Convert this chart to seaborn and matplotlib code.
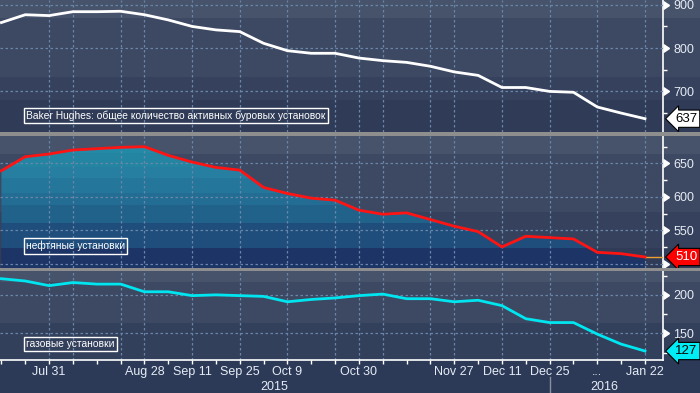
import matplotlib
matplotlib.use('Agg')
import matplotlib.pyplot as plt
import matplotlib.transforms as mtransforms
from matplotlib.patches import Rectangle
import numpy as np
import pandas as pd
import seaborn as sns

# weekly Baker Hughes rig counts, Jul 17 2015 .. Jan 22 2016
dates = pd.date_range('2015-07-17', '2016-01-22', freq='7D')
total_rigs = [859, 877, 875, 884, 884, 885, 877, 865, 850, 842, 838, 811, 794, 788,
              788, 777, 771, 767, 758, 745, 737, 709, 709, 700, 698, 664, 650, 637]
oil_rigs = [639, 660, 664, 670, 672, 674, 675, 662, 652, 644, 640, 614, 605, 598,
            595, 580, 574, 576, 566, 556, 548, 525, 541, 539, 537, 517, 515, 510]
gas_rigs = [221, 218, 212, 216, 214, 214, 204, 204, 199, 200, 199, 198, 191, 194,
            196, 199, 201, 195, 195, 191, 193, 186, 169, 164, 164, 149, 136, 127]

tick_dates = pd.to_datetime(['2015-07-31', '2015-08-28', '2015-09-11', '2015-09-25',
                             '2015-10-09', '2015-10-30', '2015-11-27', '2015-12-11',
                             '2015-12-25', '2016-01-08', '2016-01-22'])
tick_labels = ['Jul 31', 'Aug 28', 'Sep 11', 'Sep 25', 'Oct 9', 'Oct 30',
               'Nov 27', 'Dec 11', 'Dec 25', '...', 'Jan 22']
grid_dates = pd.to_datetime(['2015-07-31', '2015-08-07', '2015-08-21', '2015-08-28',
                             '2015-09-11', '2015-09-25', '2015-10-09', '2015-10-23',
                             '2015-10-30', '2015-11-06', '2015-11-20', '2015-11-27',
                             '2015-12-11', '2015-12-25', '2016-01-08', '2016-01-22'])

W, H = 700, 393
AX_W = 663
xlim = (pd.Timestamp('2015-07-16 14:00'), pd.Timestamp('2016-01-27 07:00'))

TXT = '#e6ecf5'
GRID = '#6985a8'

plt.rcParams['font.family'] = ['Liberation Sans', 'DejaVu Sans']

fig = plt.figure(figsize=(W / 100, H / 100), dpi=100, facecolor='#2c3a58')


def band(top, bottom, color, z=-2):
    fig.add_artist(Rectangle((0, 1 - bottom / H), 1, (bottom - top) / H,
                             transform=fig.transFigure, color=color, zorder=z, lw=0))


# panel backgrounds (stepped shading, full width)
for t, b, c in [(0, 17.7, '#46536b'), (17.7, 76.7, '#3d4963'), (76.7, 100, '#36425d'), (100, 132, '#2f3b57'),
                (136, 154, '#46536b'), (154, 211.7, '#3d4963'), (211.7, 248, '#36425d'), (248, 268, '#2f3b57'),
                (271, 282, '#46536b'), (282, 322.5, '#3d4963'), (322.5, 359.5, '#33405b')]:
    band(t, b, c)
# grey separators
band(132, 136, '#8e8e8e', z=5)
band(267.7, 271, '#8e8e8e', z=5)


def make_ax(top, bottom):
    ax = fig.add_axes([0, 1 - bottom / H, AX_W / W, (bottom - top) / H])
    ax.patch.set_visible(False)
    for s in ['top', 'left', 'bottom']:
        ax.spines[s].set_visible(False)
    ax.spines['right'].set_color('white')
    ax.spines['right'].set_linewidth(1.2)
    ax.yaxis.tick_right()
    return ax


ax1 = make_ax(0, 131.7)
ax2 = make_ax(136, 267.7)
ax3 = make_ax(271, 359.5)

# gradient fill under oil line
fill_bands = [(136, 153, '#228aa7'), (153, 166.7, '#2485a3'), (166.7, 178.3, '#267ea0'),
              (178.3, 193.3, '#24779b'), (193.3, 205, '#236d94'), (205, 222.7, '#21628b'),
              (222.7, 248.3, '#1f4e7d'), (248.3, 268, '#1d3466')]
rows = []
for i in range(132):
    py = 136 + i + 0.5
    for t, b, c in fill_bands:
        if t <= py < b:
            rows.append(matplotlib.colors.to_rgb(c))
            break
    else:
        rows.append(matplotlib.colors.to_rgb(fill_bands[-1][2]))
img = np.array(rows).reshape(-1, 1, 3)
poly = ax2.fill_between(dates, oil_rigs, 300, color='none', lw=0)
im = ax2.imshow(img, extent=(0, 1, 0, 1), transform=ax2.transAxes, aspect='auto',
                interpolation='nearest', zorder=1)
im.set_clip_path(poly.get_paths()[0], ax2.transData)

sns.lineplot(x=dates, y=total_rigs, ax=ax1, color='white', lw=2, zorder=4)
sns.lineplot(x=dates, y=oil_rigs, ax=ax2, color='#ff1414', lw=2, zorder=4)
sns.lineplot(x=dates, y=gas_rigs, ax=ax3, color='#00e6f0', lw=2, zorder=4)
ax2.hlines(oil_rigs[-1], dates[-1], xlim[1], color='#f0a030', lw=1, zorder=3)

panels = [
    (ax1, (607, 911), [700, 800, 900], ['700', '800', '900'], [650, 750, 850],
     total_rigs[-1], 'white', 'black', 'Baker Hughes: общее количество активных буровых установок',
     (131.7 - 115.3) / 131.7),
    (ax2, (494, 691), [500, 550, 600, 650], ['', '550', '600', '650'], [525, 575, 625, 675],
     oil_rigs[-1], '#ff0000', 'white', 'нефтяные установки', (267.7 - 246) / 131.7),
    (ax3, (116, 231), [150, 200], ['150', '200'], [125, 175, 225],
     gas_rigs[-1], '#00ecf5', 'black', 'газовые установки', (359.5 - 343.9) / 88.5),
]

for ax, ylim, major, labels, minor, last, tag_fc, tag_tc, title, ty in panels:
    ax.set_xlim(xlim)
    ax.set_ylim(ylim)
    ax.set_xlabel('')
    ax.set_ylabel('')
    ax.set_yticks(major, labels)
    ax.set_yticks(minor, minor=True)
    ax.tick_params(axis='y', which='major', length=0, pad=7.5, labelsize=9, labelcolor=TXT)
    ax.tick_params(axis='y', which='minor', length=3, width=1, color='white', direction='out')
    ax.set_axisbelow(False)
    ax.grid(axis='y', which='major', color=GRID, ls=(0, (2, 2)), lw=0.9, zorder=2)
    for d in grid_dates:
        ax.axvline(d, color=GRID, ls=(0, (2, 2)), lw=0.9, zorder=2)
    blend = mtransforms.blended_transform_factory(ax.transAxes, ax.transData)
    ax.plot([1.0] * len(major), major, transform=blend, marker=9, ms=6, color='white',
            ls='none', clip_on=False, zorder=6)
    ax.text(675 / AX_W, last, str(last), transform=blend, va='center', ha='left',
            fontsize=9.5, color=tag_tc, zorder=7, clip_on=False,
            bbox=dict(boxstyle='larrow,pad=0.2', fc=tag_fc, ec='black', lw=0.8))
    ax.text(26 / AX_W, ty, title, transform=ax.transAxes, va='center', ha='left',
            fontsize=7.4, color='white', zorder=7,
            bbox=dict(boxstyle='square,pad=0.22', fc='none', ec='white', lw=1))

for ax in (ax1, ax2):
    ax.tick_params(axis='x', which='both', length=0, labelbottom=False)

ax3.spines['bottom'].set_visible(True)
ax3.spines['bottom'].set_color('white')
ax3.spines['bottom'].set_linewidth(1.2)
ax3.set_xticks(tick_dates, tick_labels)
ax3.set_xticks(dates, minor=True)
ax3.tick_params(axis='x', which='both', length=3, width=1, color='white', direction='out')
ax3.tick_params(axis='x', which='major', pad=2, labelsize=9, labelcolor=TXT)

xblend = mtransforms.blended_transform_factory(ax3.transData, ax3.transAxes)
ax3.text(pd.Timestamp('2015-10-05'), -0.31, '2015', transform=xblend, ha='center', va='center',
         fontsize=9, color=TXT, clip_on=False)
ax3.text(pd.Timestamp('2016-01-10'), -0.31, '2016', transform=xblend, ha='center', va='center',
         fontsize=9, color=TXT, clip_on=False)
ax3.plot([pd.Timestamp('2015-12-25')] * 2, [-0.2, -0.4], transform=xblend, color='#8a909c',
         lw=1, clip_on=False)

fig.savefig('out.png', dpi=100, facecolor=fig.get_facecolor())
